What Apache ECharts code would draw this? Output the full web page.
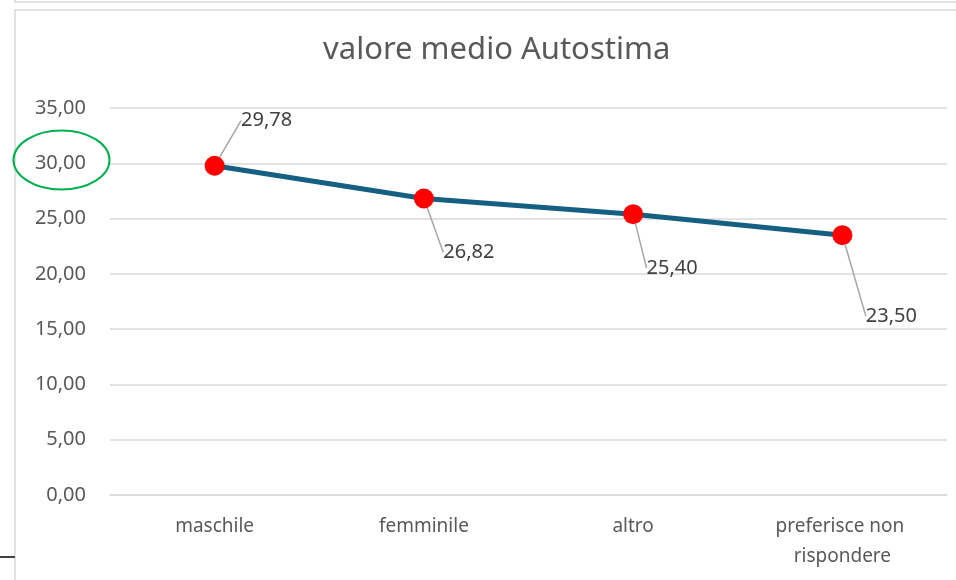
<!DOCTYPE html>
<html>
<head>
<meta charset="utf-8">
<script src="https://cdn.jsdelivr.net/npm/echarts@6/dist/echarts.min.js"></script>
<style>
  html, body { margin: 0; padding: 0; background: #fff; }
  #chart { width: 956px; height: 580px; }
</style>
</head>
<body>
<div id="chart"></div>
<script>
const categories = ['maschile', 'femminile', 'altro', 'preferisce non rispondere'];
const values = [29.78, 26.82, 25.40, 23.50];
const yTicks = { min: 0, max: 35, interval: 5 };

// label offsets (leader lines like Excel)
const labelShift = [[52, -45], [45, 54], [39, 54], [49, 81]];

const fmt = v => v.toFixed(2).replace('.', ',');

const chart = echarts.init(document.getElementById('chart'), null, { renderer: 'canvas' });

chart.setOption({
  backgroundColor: '#fff',
  animation: false,
  textStyle: { fontFamily: 'Noto Sans, Open Sans, sans-serif' },
  title: {
    text: 'valore medio Autostima',
    left: 318, top: 30,
    textStyle: { color: '#595959', fontSize: 31, fontWeight: 'normal', fontFamily: 'Noto Sans' }
  },
  grid: { left: 110, right: 9, top: 108, bottom: 85 },
  xAxis: {
    type: 'category', data: categories,
    axisLine: { lineStyle: { color: '#d9d9d9', width: 1.5 } },
    axisTick: { show: false },
    axisLabel: {
      color: '#595959', fontSize: 19, margin: 17, interval: 0,
      width: 160, overflow: 'break', lineHeight: 30
    }
  },
  yAxis: {
    type: 'value', min: yTicks.min, max: yTicks.max, interval: yTicks.interval,
    axisLine: { show: false }, axisTick: { show: false },
    splitLine: { lineStyle: { color: '#d9d9d9', width: 1.5 } },
    axisLabel: { color: '#595959', fontSize: 20, margin: 24, formatter: v => fmt(v) }
  },
  series: [{
    type: 'line', data: values,
    symbol: 'circle', symbolSize: 20,
    itemStyle: { color: '#ff0000' },
    lineStyle: { color: '#156082', width: 5 },
    label: {
      show: true, position: 'inside', color: '#404040', fontSize: 20,
      formatter: p => fmt(p.value)
    },
    labelLine: { show: true, lineStyle: { color: '#a6a6a6', width: 1.5 } },
    labelLayout: p => ({ dx: labelShift[p.dataIndex][0], dy: labelShift[p.dataIndex][1] }),
    z: 3
  }],
  graphic: [
    { type: 'rect', shape: { x: 15, y: 10, width: 1000, height: 600 },
      style: { fill: null, stroke: '#d9d9d9', lineWidth: 1.5 }, silent: true, z: -1 },
    { type: 'rect', shape: { x: 15, y: -20, width: 1000, height: 22 },
      style: { fill: null, stroke: '#d9d9d9', lineWidth: 1.5 }, silent: true, z: -1 },
    { type: 'line', shape: { x1: 0, y1: 557, x2: 15, y2: 557 },
      style: { stroke: '#404040', lineWidth: 2 }, silent: true },
    { type: 'ellipse', shape: { cx: 61.5, cy: 160, rx: 48, ry: 29.5 },
      style: { fill: null, stroke: '#00b050', lineWidth: 2 }, silent: true, z: 10 }
  ]
});
</script>
</body>
</html>
